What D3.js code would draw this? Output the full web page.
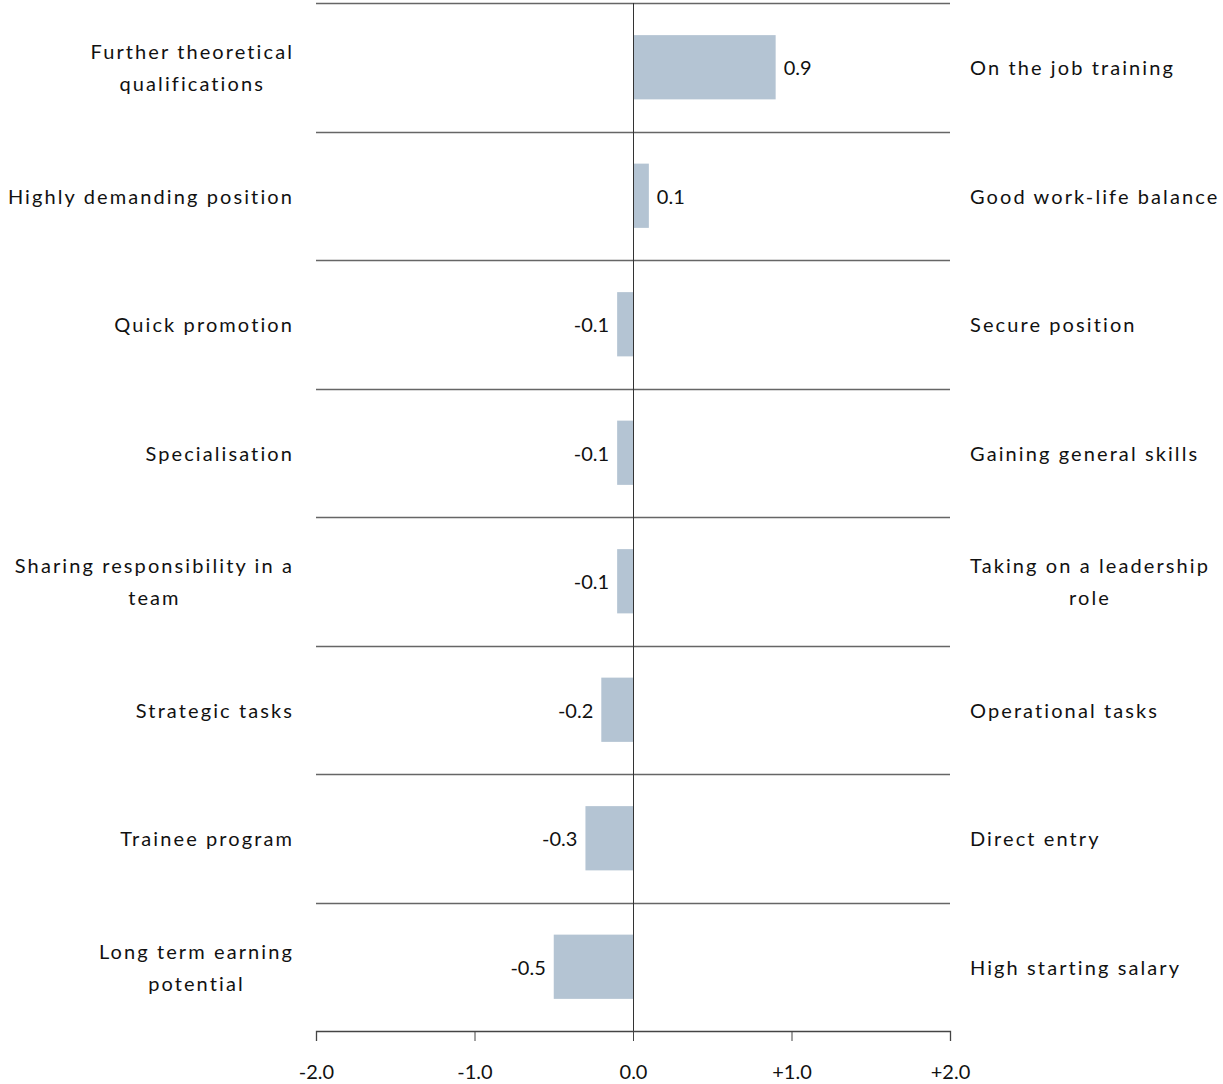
<!DOCTYPE html>
<html><head><meta charset="utf-8">
<script src="https://cdn.jsdelivr.net/npm/d3@7"></script>
<style>
body{margin:0;background:#fff;}
svg text{font-family:Lato,"Open Sans",sans-serif;fill:#111;}
.cat{font-size:20px;letter-spacing:2.1px;}
.val{font-size:20px;}
</style></head>
<body>
<svg id="c" width="1223" height="1084"></svg>
<script>
const leftLabels = [["Further theoretical","qualifications"],["Highly demanding position"],["Quick promotion"],["Specialisation"],["Sharing responsibility in a","team"],["Strategic tasks"],["Trainee program"],["Long term earning","potential"]];
const rightLabels = [["On the job training"],["Good work-life balance"],["Secure position"],["Gaining general skills"],["Taking on a leadership","role"],["Operational tasks"],["Direct entry"],["High starting salary"]];
const values = [0.9, 0.1, -0.1, -0.1, -0.1, -0.2, -0.3, -0.5];
const ticks = [-2, -1, 0, 1, 2];
const tickLabels = ["-2.0","-1.0","0.0","+1.0","+2.0"];

const svg = d3.select("#c");
const idx = d3.range(values.length);
const x = d3.scaleLinear().domain([-2,2]).range([316,950]);
const y = d3.scaleBand().domain(idx).range([3,1031]).paddingInner(0.5).paddingOuter(0.25);

// row separator lines
svg.append("g").selectAll("line").data(idx).join("line")
  .attr("x1",x(-2)).attr("x2",x(2))
  .attr("y1",d=>Math.round(y(d)-y.step()*0.25)+0.5).attr("y2",d=>Math.round(y(d)-y.step()*0.25)+0.5)
  .attr("stroke","#666").attr("stroke-width",1.3);

// bars
svg.append("g").selectAll("rect").data(idx).join("rect")
  .attr("x",i=>x(Math.min(0,values[i])))
  .attr("width",i=>Math.abs(x(values[i])-x(0)))
  .attr("y",i=>y(i)).attr("height",y.bandwidth())
  .attr("fill","#b4c4d3");

// zero line
svg.append("line").attr("x1",x(0)+0.5).attr("x2",x(0)+0.5).attr("y1",3).attr("y2",1031)
  .attr("stroke","#333").attr("stroke-width",1);

// axis
const axis = d3.axisBottom(x).tickValues(ticks).tickFormat((d,i)=>tickLabels[i]).tickSize(10).tickPadding(24);
const ga = svg.append("g").attr("transform","translate(0,1031)").call(axis);
ga.select(".domain").attr("stroke","#444").attr("stroke-width",1.3);
ga.selectAll(".tick line").attr("stroke","#444");
ga.selectAll(".tick text").attr("fill","#111").style("font-family","Lato,sans-serif").style("font-size","20px");

// value labels
const fmt = v => (v<0?"-":"") + d3.format(".1f")(Math.abs(v));
svg.append("g").selectAll("text").data(idx).join("text").attr("class","val")
  .attr("x",i=>values[i]>=0 ? x(values[i])+8 : x(values[i])-8)
  .attr("y",i=>y(i)+y.bandwidth()/2+1).attr("dy","0.35em")
  .attr("text-anchor",i=>values[i]>=0?"start":"end")
  .text(i=>fmt(values[i]));

// category labels
function drawLabels(labels, side){
  const g = svg.append("g");
  labels.forEach((lines,i)=>{
    const cy = y(i)+y.bandwidth()/2+1;
    const t = g.append("text").attr("class","cat").attr("y",cy);
    lines.forEach((ln,j)=>{
      t.append("tspan").attr("x",0).attr("y",cy+(j-(lines.length-1)/2)*32).attr("dy","0.35em").text(ln);
    });
    const widths = t.selectAll("tspan").nodes().map(n=>n.getComputedTextLength());
    const w = Math.max(...widths);
    const center = side==="left" ? 294 - w/2 : 970 + w/2;
    t.attr("text-anchor","middle").selectAll("tspan").attr("x",center);
  });
}
drawLabels(leftLabels,"left");
drawLabels(rightLabels,"right");
</script>
</body></html>
